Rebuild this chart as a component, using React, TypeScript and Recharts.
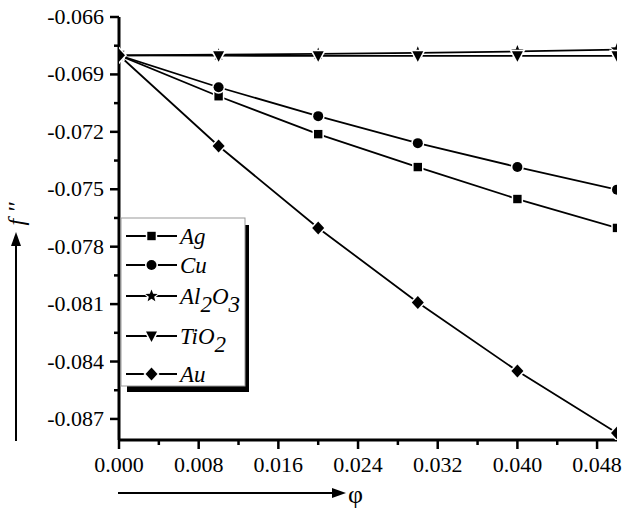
import React from 'react';
import { LineChart, Line, XAxis, YAxis } from 'recharts';

const PHI = [0, 0.01, 0.02, 0.03, 0.04, 0.05];
const AG = [-0.068, -0.07014, -0.07212, -0.07384, -0.07551, -0.07702];
const CU = [-0.068, -0.06967, -0.07118, -0.07259, -0.07384, -0.07502];
const AL2O3 = [-0.068, -0.06797, -0.06793, -0.06787, -0.0678, -0.0677];
const TIO2 = [-0.068, -0.06802, -0.06803, -0.06803, -0.06803, -0.06803];
const AU = [-0.068, -0.07274, -0.07702, -0.08092, -0.0845, -0.08774];

const X_TICKS = [0, 0.004, 0.008, 0.012, 0.016, 0.02, 0.024, 0.028, 0.032, 0.036, 0.04, 0.044, 0.048];
const Y_TICKS = [-0.066, -0.0675, -0.069, -0.0705, -0.072, -0.0735, -0.075, -0.0765, -0.078, -0.0795, -0.081, -0.0825, -0.084, -0.0855, -0.087];

const SERIES = [
  { key: 'Ag', values: AG, shape: 'square' },
  { key: 'Cu', values: CU, shape: 'circle' },
  { key: 'Al2O3', values: AL2O3, shape: 'star' },
  { key: 'TiO2', values: TIO2, shape: 'triangle' },
  { key: 'Au', values: AU, shape: 'diamond' },
];

const data = PHI.map((p, i) => {
  const row: any = { phi: p };
  SERIES.forEach((s) => (row[s.key] = s.values[i]));
  return row;
});

const FF = 'Liberation Serif';
const CSS = "svg text, svg tspan { font-family: 'Liberation Serif' !important; }";

function starPoints(cx: number, cy: number, ro: number, ri: number) {
  const pts: string[] = [];
  for (let k = 0; k < 10; k++) {
    const r = k % 2 === 0 ? ro : ri;
    const a = -Math.PI / 2 + (k * Math.PI) / 5;
    pts.push(`${cx + r * Math.cos(a)},${cy + r * Math.sin(a)}`);
  }
  return pts.join(' ');
}

function Shape({ shape, cx, cy, g, fill }: { shape: string; cx: number; cy: number; g: number; fill: string }) {
  if (shape === 'square') return <rect x={cx - 4.2 - g} y={cy - 4.2 - g} width={8.4 + 2 * g} height={8.4 + 2 * g} fill={fill} />;
  if (shape === 'circle') return <circle cx={cx} cy={cy} r={5 + g} fill={fill} />;
  if (shape === 'star') return <polygon points={starPoints(cx, cy, 6.5 + g * 1.6, 2.8 + g)} fill={fill} />;
  if (shape === 'triangle')
    return <polygon points={`${cx - 5.5 - g * 1.7},${cy - 4.5 - g} ${cx + 5.5 + g * 1.7},${cy - 4.5 - g} ${cx},${cy + 6 + g * 2}`} fill={fill} />;
  return <polygon points={`${cx},${cy - 6.5 - g * 1.4} ${cx + 6 + g * 1.4},${cy} ${cx},${cy + 6.5 + g * 1.4} ${cx - 6 - g * 1.4},${cy}`} fill={fill} />;
}

function Marker({ shape, cx, cy }: { shape: string; cx: number; cy: number }) {
  return (
    <g>
      <Shape shape={shape} cx={cx} cy={cy} g={1.5} fill="#fff" />
      <Shape shape={shape} cx={cx} cy={cy} g={0} fill="#000" />
    </g>
  );
}

const XTick = (p: any) => {
  const v = p.payload.value;
  const major = Math.round(v * 1000) % 8 === 0;
  return (
    <g>
      <line x1={p.x} x2={p.x} y1={p.y} y2={p.y + (major ? 9 : 5)} stroke="#000" strokeWidth={2.5} />
      {major && (
        <text x={p.x} y={p.y + 32} textAnchor="middle" fontFamily={FF} fontSize={22} fill="#000">
          {v.toFixed(3)}
        </text>
      )}
    </g>
  );
};

const YTick = (p: any) => {
  const v = p.payload.value;
  const major = Math.round(v * 10000) % 30 === 0;
  return (
    <g>
      <line x1={p.x - (major ? 9 : 5)} x2={p.x} y1={p.y} y2={p.y} stroke="#000" strokeWidth={2.5} />
      {major && (
        <text x={p.x - 15} y={p.y + 7} textAnchor="end" fontFamily={FF} fontSize={22} fill="#000">
          {v.toFixed(3)}
        </text>
      )}
    </g>
  );
};

const LEGEND_ROWS = [
  { shape: 'square', y: 236, parts: [['Ag', 0]] },
  { shape: 'circle', y: 265, parts: [['Cu', 0]] },
  { shape: 'star', y: 296, parts: [['Al', 0], ['2', 1], ['O', 0], ['3', 1]] },
  { shape: 'triangle', y: 336, parts: [['TiO', 0], ['2', 1]] },
  { shape: 'diamond', y: 374, parts: [['Au', 0]] },
];

function Overlay() {
  return (
    <svg width={626} height={514} style={{ position: 'absolute', left: 0, top: 0, pointerEvents: 'none' }}>
      <rect x={127} y={225} width={122} height={167} fill="#000" />
      <rect x={121} y={218} width={124} height={168} fill="#fff" stroke="#999" strokeWidth={1} />
      {LEGEND_ROWS.map((r, i) => {
        let dyPrev = 0;
        return (
          <g key={i}>
            <line x1={126} x2={177} y1={r.y} y2={r.y} stroke="#000" strokeWidth={1.8} />
            <Marker shape={r.shape} cx={151.5} cy={r.y} />
            <text x={180} y={r.y + 8} fontFamily={FF} fontSize={23} fontStyle="italic" fill="#000">
              {r.parts.map((pt: any, j: number) => {
                const target = pt[1] ? 8 : 0;
                const dy = target - dyPrev;
                dyPrev = target;
                return (
                  <tspan key={j} dy={dy}>
                    {pt[0]}
                  </tspan>
                );
              })}
            </text>
          </g>
        );
      })}
      <line x1={16} x2={16} y1={441} y2={244} stroke="#000" strokeWidth={2} />
      <polygon points="11,246 21,246 16,232" fill="#000" />
      <text
        x={24}
        y={214}
        transform="rotate(-90 24 214)"
        textAnchor="middle"
        fontFamily={FF}
        fontSize={24}
        fontStyle="italic"
        fill="#000"
      >
        {"f ''"}
      </text>
      <line x1={118} x2={334} y1={493} y2={493} stroke="#000" strokeWidth={2} />
      <polygon points="332,488 332,498 346,493" fill="#000" />
      <text x={348} y={503} fontFamily={FF} fontSize={26} fill="#000">
        φ
      </text>
    </svg>
  );
}

export default function App() {
  return (
    <div style={{ position: 'absolute', left: 0, top: 0, width: 626, height: 514, fontFamily: FF }}>
      <style>{CSS}</style>
      <LineChart width={626} height={514} data={data} margin={{ top: 17, right: 9, bottom: 0, left: 0 }}>
        <XAxis
          dataKey="phi"
          type="number"
          domain={[0, 0.05]}
          allowDataOverflow
          ticks={X_TICKS}
          interval={0}
          height={74}
          tickLine={false}
          tickSize={0}
          tickMargin={0}
          tick={XTick}
          axisLine={{ stroke: '#000', strokeWidth: 3 }}
        />
        <XAxis
          xAxisId="top"
          orientation="top"
          type="number"
          domain={[0, 0.05]}
          height={0}
          tick={false}
          tickLine={false}
          axisLine={{ stroke: '#000', strokeWidth: 2.5 }}
        />
        <YAxis
          type="number"
          domain={[-0.0881, -0.066]}
          allowDataOverflow
          ticks={Y_TICKS}
          interval={0}
          width={119}
          tickLine={false}
          tickSize={0}
          tickMargin={0}
          tick={YTick}
          axisLine={{ stroke: '#000', strokeWidth: 3 }}
        />
        <YAxis
          yAxisId="right"
          orientation="right"
          type="number"
          domain={[-0.0881, -0.066]}
          width={0}
          tick={false}
          tickLine={false}
          axisLine={{ stroke: '#000', strokeWidth: 2.5 }}
        />
        {SERIES.map((s) => (
          <Line
            key={s.key}
            dataKey={s.key}
            type="linear"
            stroke="#000"
            strokeWidth={1.8}
            isAnimationActive={false}
            dot={(p: any) => <Marker key={`${s.key}-${p.index}`} shape={s.shape} cx={p.cx} cy={p.cy} />}
            activeDot={false}
          />
        ))}
      </LineChart>
      <Overlay />
    </div>
  );
}
